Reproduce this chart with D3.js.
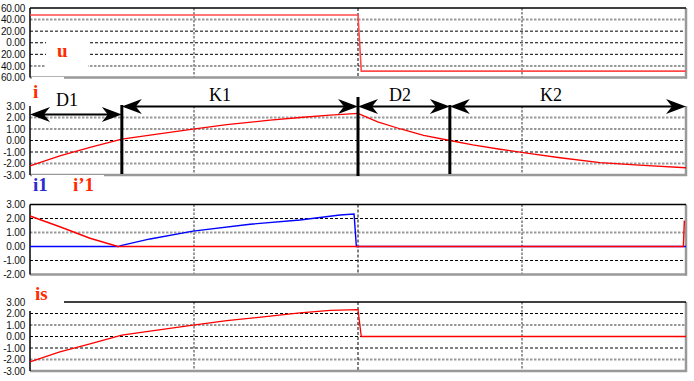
<!DOCTYPE html>
<html>
<head>
<meta charset="utf-8">
<script src="https://cdn.jsdelivr.net/npm/d3@7/dist/d3.min.js"></script>
<style>
  html, body { margin: 0; padding: 0; background: #fff; }
  svg { display: block; }
</style>
</head>
<body>
<svg id="chart" width="694" height="381"></svg>
<script>
/* ---- Data (time in ms over one period) ---- */
const timeDomain = [0, 20];
const timeGrid = [5, 10, 15];

// conduction intervals
const phaseBounds = [0, 2.8, 10, 12.8, 20];
const phaseNames = ['D1', 'K1', 'D2', 'K2'];

// load voltage u
const uTime = [0, 10, 10.1, 20];
const uValue = [48, 48, -49, -49];

// load current i
const iTime = [0, 0.91, 1.83, 2.8, 3.66, 4.97, 6.0, 7.32, 8.23, 9.15, 10, 10.6, 11.3, 12.0, 12.8, 13.5, 14.33, 15.2, 16.16, 17.38, 18.7, 20];
const iValue = [-2.2, -1.34, -0.6, 0.12, 0.47, 0.99, 1.38, 1.77, 2.0, 2.2, 2.35, 1.62, 1.0, 0.45, 0.0, -0.38, -0.76, -1.12, -1.5, -1.92, -2.17, -2.37];

// i1 (blue) and i'1 (red)
const i1Time = [0, 2.7, 2.8, 3.66, 4.97, 6.71, 8.23, 9.45, 9.88, 9.95, 20];
const i1Value = [0, 0, 0.08, 0.54, 1.1, 1.59, 1.89, 2.25, 2.32, 0, 0];
const i1pTime = [0, 0.91, 1.83, 2.68, 19.92, 19.95];
const i1pValue = [2.18, 1.41, 0.59, 0, 0, 1.85];

// source current is
const isTime = [0, 0.91, 1.83, 2.8, 3.66, 4.97, 6.0, 7.32, 8.23, 9.15, 10, 10.1, 20];
const isValue = [-2.2, -1.34, -0.65, 0.12, 0.47, 0.99, 1.38, 1.77, 2.05, 2.27, 2.33, 0, 0];

// y ticks
const uTicks = [60, 40, 20, 0, -20, -40, -60];
const uTickLabels = ['60.00', '40.00', '20.00', '0.00', '20.00', '40.00', '60.00'];
const iTicks = [3, 2, 1, 0, -1, -2, -3];
const iTickLabels = ['3.00', '2.00', '1.00', '0.00', '-1.00', '-2.00', '-3.00'];
const i1Ticks = [3, 2, 1, 0, -1, -2];
const i1TickLabels = ['3.00', '2.00', '1.00', '0.00', '-1.00', '-2.00'];

/* ---- Layout ---- */
const RED = '#ff0000', BLUE = '#0000ff', GRAY = '#999';
const LEFT = 30, RIGHT = 686;
const svg = d3.select('#chart');
const x = d3.scaleLinear().domain(timeDomain).range([LEFT, RIGHT]);

const panels = [
  { top: 8,   bottom: 77.5,  domain: [-60, 60], ticks: uTicks,  labels: uTickLabels,  gray: [40, -40],
    series: [{ t: uTime, v: uValue, color: '#ff4a4a', w: 1.6 }] },
  { top: 106, bottom: 175,   domain: [-3, 3],   ticks: iTicks,  labels: iTickLabels,  gray: [2, 1, -2], noTop: true,
    series: [{ t: iTime, v: iValue, color: RED, w: 1.3 }] },
  { top: 204.5, bottom: 274.5, domain: [-2, 3], ticks: i1Ticks, labels: i1TickLabels, gray: [1],
    series: [{ t: i1Time, v: i1Value, color: BLUE, w: 1.4 }, { t: i1pTime, v: i1pValue, color: RED, w: 1.4 }] },
  { top: 302, bottom: 371,   domain: [-3, 3],   ticks: iTicks,  labels: iTickLabels,  gray: [1, -2],
    series: [{ t: isTime, v: isValue, color: RED, w: 1.3 }] }
];

// white boxes behind the series names
const masks = [
  { x: 46, y: 34, w: 42, h: 36 },
  { x: 31, y: 76, w: 33, h: 24 },
  { x: 31, y: 174, w: 73, h: 26 },
  { x: 28, y: 285, w: 36, h: 27 }
];

panels.forEach(p => {
  const y = d3.scaleLinear().domain(p.domain).range([p.bottom, p.top]);
  p.y = y;
  const g = svg.append('g');

  // horizontal grid
  p.ticks.filter(v => v > p.domain[0] && v < p.domain[1]).forEach(v => {
    const gray = p.gray.includes(v);
    g.append('line')
      .attr('x1', LEFT).attr('x2', RIGHT)
      .attr('y1', y(v)).attr('y2', y(v))
      .attr('stroke', gray ? GRAY : '#000')
      .attr('stroke-width', gray ? 2 : 1)
      .attr('stroke-dasharray', gray ? '2.5,1.5' : '3,2');
  });

  // vertical grid
  timeGrid.forEach(t => {
    const mid = t === 10;
    g.append('line')
      .attr('x1', x(t)).attr('x2', x(t))
      .attr('y1', p.top).attr('y2', p.bottom)
      .attr('stroke', mid ? '#000' : GRAY)
      .attr('stroke-width', mid ? 1 : 2)
      .attr('stroke-dasharray', mid ? '3,2' : '2.5,1.5');
  });

  // tick labels
  const axis = d3.axisLeft(y)
    .tickValues(p.ticks)
    .tickFormat((d, i) => p.labels[i])
    .tickSize(0)
    .tickPadding(5);
  const ax = svg.append('g').attr('transform', `translate(${LEFT},0)`).call(axis);
  ax.select('.domain').remove();
  ax.selectAll('text')
    .attr('font-family', "'Liberation Sans', Arial, sans-serif")
    .attr('font-size', '10px')
    .attr('letter-spacing', '-0.2px')
    .attr('fill', '#111');
});

masks.forEach(m => {
  svg.append('rect').attr('x', m.x).attr('y', m.y).attr('width', m.w).attr('height', m.h).attr('fill', '#fff');
});

// borders and series
panels.forEach(p => {
  const g = svg.append('g');
  g.append('line').attr('x1', RIGHT).attr('x2', RIGHT).attr('y1', p.top).attr('y2', p.bottom + 1)
    .attr('stroke', GRAY).attr('stroke-width', 2.5);
  g.append('line').attr('x1', LEFT).attr('x2', RIGHT + 1).attr('y1', p.bottom).attr('y2', p.bottom)
    .attr('stroke', GRAY).attr('stroke-width', 2.5);
  if (!p.noTop) {
    g.append('line').attr('x1', LEFT).attr('x2', RIGHT).attr('y1', p.top).attr('y2', p.top)
      .attr('stroke', '#000').attr('stroke-width', 1.3);
  }
  g.append('line').attr('x1', LEFT).attr('x2', LEFT).attr('y1', p.top).attr('y2', p.bottom)
    .attr('stroke', '#000').attr('stroke-width', 1.5);

  const line = d3.line().x(d => x(d[0])).y(d => p.y(d[1]));
  p.series.forEach(s => {
    g.append('path')
      .attr('d', line(d3.zip(s.t, s.v)))
      .attr('fill', 'none')
      .attr('stroke', s.color)
      .attr('stroke-width', s.w);
  });
});

// re-mask label areas over borders
masks.slice(1).forEach(m => {
  svg.append('rect').attr('x', m.x + 1).attr('y', m.y + 1).attr('width', m.w - 1).attr('height', m.h - 2).attr('fill', '#fff');
});

/* ---- Interval arrows ---- */
const arrows = svg.append('g');
function arrowHead(tipX, yy, dir) {
  const L = 20, H = 7.5, N = 14;
  return `M${tipX},${yy} L${tipX - dir * L},${yy - H} L${tipX - dir * N},${yy} L${tipX - dir * L},${yy + H} Z`;
}
const labelShift = [-9, -20, -4, -17];
phaseNames.forEach((name, i) => {
  const x0 = x(phaseBounds[i]), x1 = x(phaseBounds[i + 1]);
  const ay = i === 0 ? 114.5 : 106.5;
  arrows.append('line').attr('x1', x0 + 4).attr('x2', x1 - 4).attr('y1', ay).attr('y2', ay)
    .attr('stroke', '#000').attr('stroke-width', 2);
  arrows.append('path').attr('d', arrowHead(x0, ay, -1)).attr('fill', '#000');
  arrows.append('path').attr('d', arrowHead(x1, ay, 1)).attr('fill', '#000');
  arrows.append('text')
    .attr('x', (x0 + x1) / 2 + labelShift[i])
    .attr('y', i === 0 ? 106 : 100.5)
    .attr('text-anchor', 'middle')
    .attr('font-family', "'Liberation Serif', 'Times New Roman', serif")
    .attr('font-size', '18px')
    .attr('fill', '#000')
    .text(name);
});

// boundary markers
phaseBounds.slice(1, -1).forEach(t => {
  arrows.append('line')
    .attr('x1', x(t)).attr('x2', x(t))
    .attr('y1', t === 10 ? 97 : 105).attr('y2', t === 10 ? 176 : 174)
    .attr('stroke', '#000').attr('stroke-width', 3);
});

/* ---- Series names ---- */
const names = [
  { text: 'u',   x: 57, y: 57,  color: '#ff2a00' },
  { text: 'i',   x: 33, y: 98,  color: '#ff2a00' },
  { text: 'i1',  x: 33, y: 191, color: '#2b2bd0' },
  { text: 'i’1', x: 73, y: 191, color: '#ff2a00' },
  { text: 'is',  x: 35, y: 300, color: '#ff2a00' }
];
names.forEach(n => {
  svg.append('text')
    .attr('x', n.x).attr('y', n.y)
    .attr('font-family', "'Liberation Serif', 'Times New Roman', serif")
    .attr('font-weight', 'bold')
    .attr('font-size', '19px')
    .attr('fill', n.color)
    .text(n.text);
});
</script>
</body>
</html>
